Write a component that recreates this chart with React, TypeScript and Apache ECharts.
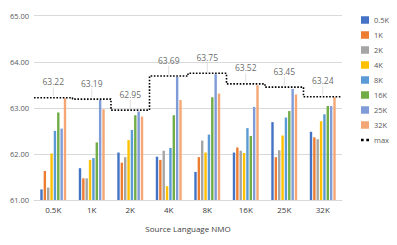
import React, { useEffect, useRef } from "react";
import * as echarts from "echarts";

const categories = ["0.5K", "1K", "2K", "4K", "8K", "16K", "25K", "32K"];
const seriesNames = ["0.5K", "1K", "2K", "4K", "8K", "16K", "25K", "32K"];
const colors = ["#4472C4", "#ED7D31", "#A5A5A5", "#FFC000", "#5B9BD5", "#70AD47", "#7F9CD8", "#F4A674"];

// values[series][category]
const s05K = [61.23, 61.69, 62.03, 61.94, 61.61, 62.03, 62.69, 62.48];
const s1K = [61.63, 61.47, 61.81, 61.87, 61.93, 62.14, 61.93, 62.36];
const s2K = [61.27, 61.47, 61.93, 62.07, 62.29, 62.07, 62.08, 62.32];
const s4K = [62.01, 61.87, 62.30, 61.30, 62.03, 62.02, 62.40, 62.71];
const s8K = [62.50, 61.91, 62.52, 62.13, 62.42, 62.56, 62.79, 62.86];
const s16K = [62.90, 62.25, 62.84, 62.84, 63.23, 62.39, 62.93, 63.04];
const s25K = [62.55, 63.17, 62.92, 63.67, 63.73, 63.02, 63.41, 63.04];
const s32K = [63.21, 62.97, 62.81, 63.17, 63.31, 63.49, 63.29, 63.23];
const maxValues = [63.22, 63.19, 62.95, 63.69, 63.75, 63.52, 63.45, 63.24];
const yTicks = [61, 62, 63, 64, 65];

const seriesValues = [s05K, s1K, s2K, s4K, s8K, s16K, s25K, s32K];

const FONT = "'Open Sans', 'Liberation Sans', sans-serif";

export default function App() {
  const ref = useRef<HTMLDivElement>(null);
  useEffect(() => {
    if (!ref.current) return;
    const chart = echarts.init(ref.current, undefined, { renderer: "svg" });
    const stepData: number[][] = maxValues.map((v, i) => [i, v]);
    stepData.push([maxValues.length, maxValues[maxValues.length - 1]]);

    const bars = seriesNames.map((name, i) => ({
      name,
      type: "bar",
      xAxisIndex: 0,
      yAxisIndex: 0,
      data: seriesValues[i],
      barWidth: 2.4,
      barGap: "40%",
      itemStyle: { color: colors[i] },
    }));

    chart.setOption({
      animation: false,
      textStyle: { fontFamily: FONT },
      grid: { left: 34, right: 55, top: 15.7, bottom: 45, containLabel: false },
      legend: {
        orient: "vertical",
        left: 356,
        top: 11,
        itemWidth: 8,
        itemHeight: 7.5,
        itemGap: 7,
        textStyle: { fontSize: 7.5, color: "#595959", fontFamily: FONT },
        data: [
          ...seriesNames.map((n) => ({ name: n, icon: "rect" })),
          { name: "max", icon: "path://M0,3h3v3h-3z M6,3h3v3h-3z" },
        ],
      },
      xAxis: [
        {
          type: "category",
          data: categories,
          axisLine: { lineStyle: { color: "#D9D9D9" } },
          axisTick: { show: false },
          axisLabel: { fontSize: 8, color: "#404040", margin: 5 },
          name: "Source Language NMO",
          nameLocation: "middle",
          nameGap: 24,
          nameTextStyle: { fontSize: 8, color: "#404040" },
        },
        { type: "value", min: 0, max: 8, show: false },
      ],
      yAxis: {
        type: "value",
        min: 61,
        max: 65,
        interval: 1,
        axisLine: { show: false },
        axisTick: { show: false },
        splitLine: { lineStyle: { color: "#D9D9D9" } },
        axisLabel: {
          fontSize: 7.5,
          color: "#595959",
          margin: 5,
          formatter: (v: number) => v.toFixed(2),
        },
        data: yTicks,
      },
      series: [
        ...bars,
        {
          name: "max",
          type: "line",
          xAxisIndex: 1,
          yAxisIndex: 0,
          step: "end",
          data: stepData,
          symbol: "none",
          lineStyle: { color: "#000", width: 1.6, type: [1.6, 1.6] },
          itemStyle: { color: "#000" },
          z: 5,
        },
        {
          name: "maxLabel",
          type: "scatter",
          xAxisIndex: 0,
          yAxisIndex: 0,
          data: maxValues,
          symbol: "rect",
          symbolSize: [0.8, 9],
          symbolOffset: [0, -6],
          itemStyle: { color: "#D0D0D0" },
          silent: true,
          label: {
            show: true,
            position: "top",
            distance: 1,
            fontSize: 8.5,
            color: "#404040",
            formatter: (p: any) => Number(p.value).toFixed(2),
          },
          z: 6,
        },
      ],
    });
    return () => chart.dispose();
  }, []);
  return <div ref={ref} style={{ width: 397, height: 245, margin: -8 }} />;
}
